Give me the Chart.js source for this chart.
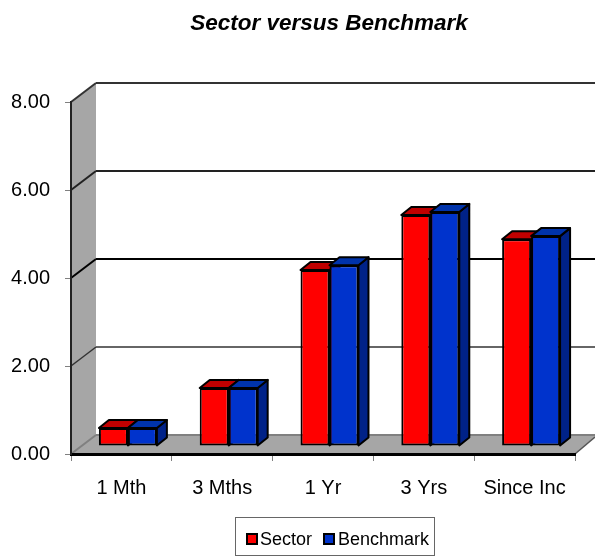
<!DOCTYPE html>
<html>
<head>
<meta charset="utf-8">
<title>Sector versus Benchmark</title>
<script src="https://cdn.jsdelivr.net/npm/chart.js@4"></script>
<style>
    html, body { margin: 0; padding: 0; background: #fff; }
    #wrap { position: relative; width: 595px; height: 557px; overflow: hidden; font-family: "Liberation Sans", Arial, sans-serif; color: #000; }
    #chart { position: absolute; left: 0; top: 0; }
    #title { position: absolute; left: 129px; width: 400px; top: 11px; text-align: center; font-size: 22.5px; line-height: 24px; font-weight: bold; font-style: italic; }
    #legend { position: absolute; left: 235px; top: 517px; width: 198px; height: 37px; border: 1px solid #666; font-size: 18px; }
    #legend span { position: absolute; top: 9px; line-height: 24px; }
    #legend i { position: absolute; top: 15px; width: 8px; height: 8px; border: 2px solid #000; }
</style>
</head>
<body>
<div id="wrap">
    <canvas id="chart" width="595" height="557"></canvas>
    <div id="title">Sector versus Benchmark</div>
    <div id="legend"></div>
</div>
<script>
const categories = ['1 Mth', '3 Mths', '1 Yr', '3 Yrs', 'Since Inc'];
const sectorValues = [0.41, 1.32, 4.00, 5.25, 4.70];
const benchmarkValues = [0.41, 1.32, 4.11, 5.32, 4.77];
const yTicks = [0, 2, 4, 6, 8];

const sectorColor = { front: '#ff0000', top: '#c00000', side: '#990000' };
const benchmarkColor = { front: '#0033cc', top: '#0033aa', side: '#002288' };
const wallGray = '#a6a6a6';

// 3D look: back wall sits behind the axes, bars stand half way on the floor
const wallDepth = { x: 25, y: -19 };
const barShift = { x: 6.5, y: -8 };
const barDepth = { x: 10, y: -8 };

function poly(ctx, points, fill, stroke, width) {
    ctx.beginPath();
    points.forEach((p, i) => i ? ctx.lineTo(p[0], p[1]) : ctx.moveTo(p[0], p[1]));
    ctx.closePath();
    if (fill) {
        ctx.fillStyle = fill;
        ctx.fill();
    }
    if (stroke) {
        ctx.strokeStyle = stroke;
        ctx.lineWidth = width;
        ctx.stroke();
    }
}

function line(ctx, x1, y1, x2, y2, color, width) {
    ctx.beginPath();
    ctx.moveTo(x1, y1);
    ctx.lineTo(x2, y2);
    ctx.strokeStyle = color;
    ctx.lineWidth = width;
    ctx.stroke();
}

const walls3d = {
    id: 'walls3d',
    beforeDraw(chart) {
        const ctx = chart.ctx;
        const area = chart.chartArea;
        const y = chart.scales.y;
        const dx = wallDepth.x, dy = wallDepth.y;
        const farRight = chart.width;
        ctx.save();
        // left wall
        poly(ctx, [[area.left, area.top], [area.left + dx, area.top + dy],
            [area.left + dx, area.bottom + dy], [area.left, area.bottom]], wallGray);
        // floor
        poly(ctx, [[area.left, area.bottom], [area.left + dx, area.bottom + dy],
            [farRight, area.bottom + dy], [area.right + 20, area.bottom + dy + 2], [area.right, area.bottom]], wallGray);
        line(ctx, area.right, area.bottom, area.right + 20, area.bottom + dy + 2, '#555', 1.5);
        // gridlines on both walls
        const lineStyle = { 0: ['#808080', 2], 2: ['#333', 1.5], 4: ['#000', 2], 6: ['#222', 2], 8: ['#333', 2] };
        yTicks.forEach(v => {
            const py = y.getPixelForValue(v);
            const s = lineStyle[v];
            line(ctx, area.left, py, area.left + dx, py + dy, s[0], s[1]);
            line(ctx, area.left + dx, py + dy, farRight, py + dy, s[0], s[1]);
        });
        ctx.restore();
    },
    // first series has to be painted first, its neighbour overlaps it
    beforeDatasetsDraw(chart) {
        const ctx = chart.ctx;
        chart.data.datasets.forEach((ds, i) => {
            const meta = chart.getDatasetMeta(i);
            const colors = ds.faces;
            ctx.save();
            ctx.translate(barShift.x, barShift.y);
            ctx.lineJoin = 'round';
            meta.data.forEach(bar => {
                const l = bar.x - bar.width / 2, r = bar.x + bar.width / 2;
                const t = bar.y, b = bar.base;
                const dx = barDepth.x, dy = barDepth.y;
                poly(ctx, [[r, t], [r + dx, t + dy], [r + dx, b + dy], [r, b]], colors.side, '#000', 2);
                poly(ctx, [[l, t], [l + dx, t + dy], [r + dx, t + dy], [r, t]], colors.top, '#000', 2);
            });
            meta.controller.draw();
            ctx.restore();
        });
        return false;
    }
};

new Chart(document.getElementById('chart'), {
    type: 'bar',
    data: {
        labels: categories,
        datasets: [
            { label: 'Sector', data: sectorValues, backgroundColor: sectorColor.front, faces: sectorColor },
            { label: 'Benchmark', data: benchmarkValues, backgroundColor: benchmarkColor.front, faces: benchmarkColor }
        ]
    },
    options: {
        responsive: false,
        animation: false,
        devicePixelRatio: 1,
        layout: { padding: { top: 102, right: 20, bottom: 0, left: 0 } },
        datasets: {
            bar: {
                borderColor: '#000',
                borderWidth: 2,
                borderSkipped: false,
                categoryPercentage: 0.575,
                barPercentage: 1
            }
        },
        plugins: {
            legend: { display: false },
            title: { display: false },
            tooltip: { enabled: false }
        },
        scales: {
            x: {
                afterFit: s => { s.height = 103; },
                grid: { drawOnChartArea: false, tickLength: 7, color: '#808080' },
                border: { color: '#000', width: 3 },
                ticks: { color: '#000', padding: 15, maxRotation: 0, font: { family: '"Liberation Sans"', size: 20 } }
            },
            y: {
                min: 0,
                max: 8,
                afterFit: s => { s.width = 71; },
                afterBuildTicks: s => { s.ticks = yTicks.map(v => ({ value: v })); },
                grid: { drawOnChartArea: false, tickLength: 6, color: '#808080' },
                border: { color: '#222', width: 2 },
                ticks: { color: '#000', padding: 15, callback: v => v.toFixed(2), font: { family: '"Liberation Sans"', size: 20 } }
            }
        }
    },
    plugins: [walls3d]
});

// legend sits off centre in a box, so it is built by hand
const legend = document.getElementById('legend');
[['Sector', sectorColor.front, 10, 24], ['Benchmark', benchmarkColor.front, 87, 102]].forEach(item => {
    const swatch = document.createElement('i');
    swatch.style.left = item[2] + 'px';
    swatch.style.background = item[1];
    legend.appendChild(swatch);
    const text = document.createElement('span');
    text.style.left = item[3] + 'px';
    text.textContent = item[0];
    legend.appendChild(text);
});
</script>
</body>
</html>
